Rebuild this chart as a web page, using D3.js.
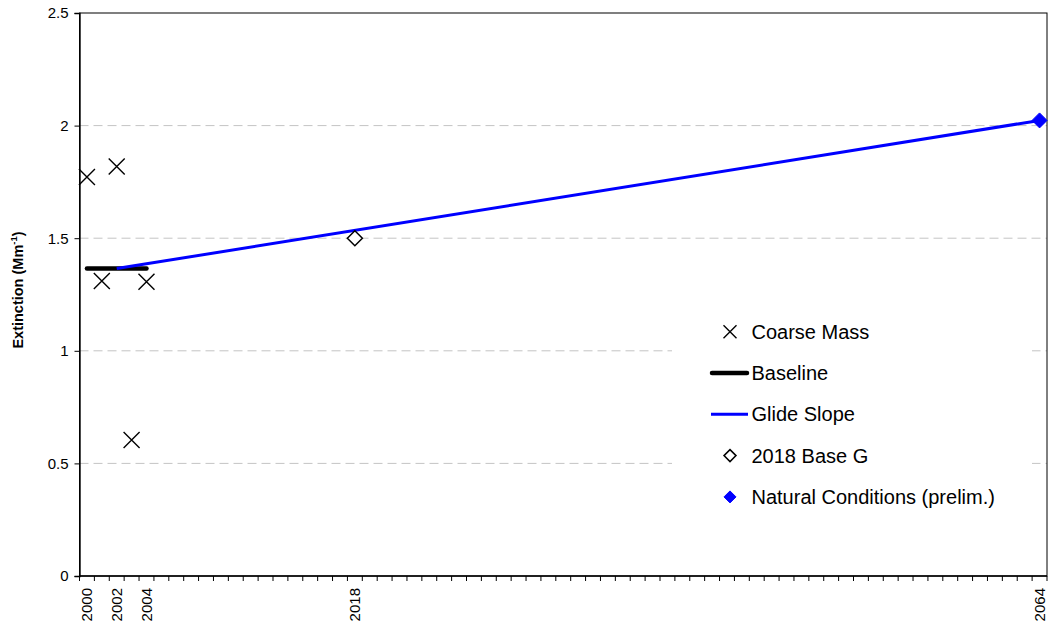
<!DOCTYPE html>
<html>
<head>
<meta charset="utf-8">
<script src="https://cdn.jsdelivr.net/npm/d3@7"></script>
<style>
  html, body { margin: 0; padding: 0; background: #fff; }
  svg { display: block; font-family: "Liberation Sans", Arial, sans-serif; }
</style>
</head>
<body>
<svg id="chart" width="1050" height="626"></svg>
<script>
// ---- data ----
const years = d3.range(2000, 2065);           // category axis 2000..2064
const labeledYears = [2000, 2002, 2004, 2018, 2064];
const yTicks = [0, 0.5, 1, 1.5, 2, 2.5];
const yTickLabels = ["0", "0.5", "1", "1.5", "2", "2.5"];

const coarseYears = [2000, 2001, 2002, 2003, 2004];
const coarseMass = [1.772, 1.310, 1.818, 0.604, 1.307];

const baselineYears = [2000, 2004];
const baselineValues = [1.365, 1.365];

const glideYears = [2002, 2064];
const glideValues = [1.365, 2.023];

const base2018Years = [2018];
const base2018Values = [1.50];

const naturalYears = [2064];
const naturalValues = [2.023];

const legendLabels = ["Coarse Mass", "Baseline", "Glide Slope", "2018 Base G", "Natural Conditions (prelim.)"];

// ---- layout ----
const L = 79.5, R = 1047, T = 13, B = 576;
const svg = d3.select("#chart");

const x = d3.scaleBand().domain(years).range([L, R]).paddingInner(0).paddingOuter(0);
const cx = d => x(d) + x.bandwidth() / 2;
const y = d3.scaleLinear().domain([0, 2.5]).range([B, T]);

// gridlines
svg.append("g").selectAll("line")
  .data(yTicks.filter(v => v > 0 && v < 2.5))
  .join("line")
  .attr("x1", L).attr("x2", R)
  .attr("y1", d => y(d)).attr("y2", d => y(d))
  .attr("stroke", "#c4c4c4").attr("stroke-width", 1)
  .attr("stroke-dasharray", "9,5");

// legend background (covers gridlines)
svg.append("rect").attr("x", 672).attr("y", 300).attr("width", 360).attr("height", 232).attr("fill", "#fff");

// frame
svg.append("rect").attr("x", L).attr("y", T).attr("width", R - L).attr("height", B - T)
  .attr("fill", "none").attr("stroke", "#000").attr("stroke-width", 1);

// y axis
const yAxis = d3.axisLeft(y).tickValues(yTicks).tickFormat((d, i) => yTickLabels[i]).tickSize(5).tickPadding(6);
const gy = svg.append("g").attr("transform", `translate(${L},0)`).call(yAxis);
gy.select(".domain").attr("stroke", "#000").attr("stroke-width", 1.4);
gy.selectAll(".tick line").attr("stroke", "#000");
gy.selectAll(".tick text").attr("font-size", 15).attr("fill", "#000")
  .attr("font-family", "Liberation Sans, Arial, sans-serif");

// x axis: ticks at category boundaries
const gx = svg.append("g");
gx.append("line").attr("x1", L).attr("x2", R).attr("y1", B).attr("y2", B).attr("stroke", "#000").attr("stroke-width", 1.4);
const boundaries = years.map(d => x(d)).concat([x(years[years.length - 1]) + x.bandwidth()]);
gx.selectAll("line.tk").data(boundaries).join("line").attr("class", "tk")
  .attr("x1", d => d).attr("x2", d => d).attr("y1", B).attr("y2", B + 5)
  .attr("stroke", "#000").attr("stroke-width", 1);
gx.selectAll("text").data(labeledYears).join("text")
  .attr("transform", d => `translate(${cx(d) + 5.5},${B + 12}) rotate(-90)`)
  .attr("text-anchor", "end")
  .attr("font-size", 15).attr("fill", "#000")
  .text(d => d);

// y-axis title
const yt = svg.append("text")
  .attr("transform", `translate(23,290) rotate(-90)`)
  .attr("text-anchor", "middle")
  .attr("font-size", 14.5).attr("font-weight", "bold").attr("fill", "#000");
yt.append("tspan").text("Extinction (Mm");
yt.append("tspan").attr("font-size", 9.5).attr("dy", -6).text("-1");
yt.append("tspan").attr("dy", 6).text(")");

// ---- series ----
const xMark = (g, px, py, s, sw) => {
  g.append("path").attr("d", `M${px - s},${py - s}L${px + s},${py + s}M${px - s},${py + s}L${px + s},${py - s}`)
    .attr("stroke", "#000").attr("stroke-width", sw).attr("fill", "none");
};
const diamond = (s) => `M0,${-s}L${s},0L0,${s}L${-s},0Z`;

// baseline
const line = d3.line().x(d => cx(d[0])).y(d => y(d[1]));
svg.append("path").datum(baselineYears.map((d, i) => [d, baselineValues[i]]))
  .attr("d", line).attr("stroke", "#000").attr("stroke-width", 4.5).attr("stroke-linecap", "round").attr("fill", "none");
// glide slope
svg.append("path").datum(glideYears.map((d, i) => [d, glideValues[i]]))
  .attr("d", line).attr("stroke", "#0000ff").attr("stroke-width", 3).attr("fill", "none");

// coarse mass
const gc = svg.append("g");
coarseYears.forEach((d, i) => xMark(gc, cx(d), y(coarseMass[i]), 8, 1.4));

// 2018 base G
svg.append("g").selectAll("path").data(base2018Years).join("path")
  .attr("transform", (d, i) => `translate(${cx(d)},${y(base2018Values[i])})`)
  .attr("d", diamond(7.5)).attr("fill", "#fff").attr("stroke", "#000").attr("stroke-width", 1.5);

// natural conditions
svg.append("g").selectAll("path").data(naturalYears).join("path")
  .attr("transform", (d, i) => `translate(${cx(d)},${y(naturalValues[i])})`)
  .attr("d", diamond(7.5)).attr("fill", "#0000ff").attr("stroke", "#0000ff").attr("stroke-width", 1);

// ---- legend ----
const lg = svg.append("g");
const ly0 = 331.7, ldy = 41.3, lmx = 730, ltx = 751.5;
legendLabels.forEach((t, i) => {
  const yy = ly0 + i * ldy;
  if (i === 0) xMark(lg, lmx, yy, 6.5, 1.4);
  if (i === 1) lg.append("line").attr("x1", 712).attr("x2", 747).attr("y1", yy).attr("y2", yy)
    .attr("stroke", "#000").attr("stroke-width", 4.5).attr("stroke-linecap", "round");
  if (i === 2) lg.append("line").attr("x1", 711).attr("x2", 748).attr("y1", yy).attr("y2", yy)
    .attr("stroke", "#0000ff").attr("stroke-width", 3);
  if (i === 3) lg.append("path").attr("transform", `translate(${lmx},${yy})`).attr("d", diamond(6))
    .attr("fill", "#fff").attr("stroke", "#000").attr("stroke-width", 1.5);
  if (i === 4) lg.append("path").attr("transform", `translate(${lmx},${yy})`).attr("d", diamond(6))
    .attr("fill", "#0000ff").attr("stroke", "#0000ff").attr("stroke-width", 1);
  lg.append("text").attr("x", ltx).attr("y", yy).attr("dy", "0.35em")
    .attr("font-size", 20).attr("fill", "#000").text(t);
});
</script>
</body>
</html>
